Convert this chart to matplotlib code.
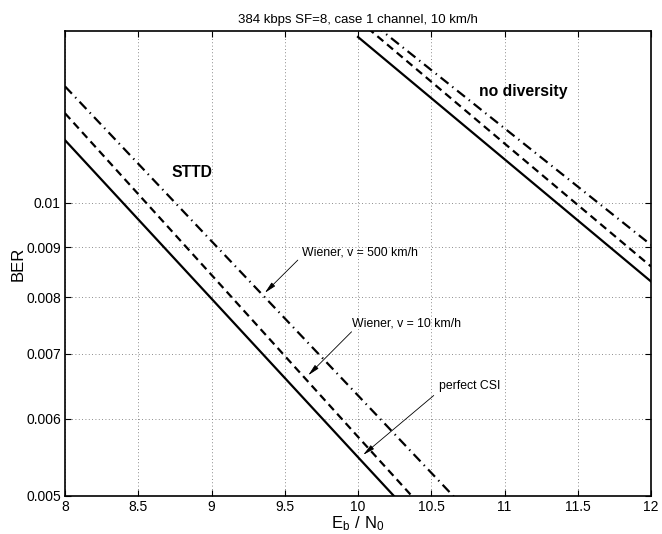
import matplotlib.pyplot as plt
from matplotlib.ticker import FixedLocator, NullLocator

plt.rcParams['font.family'] = ['Liberation Sans', 'DejaVu Sans']

# STTD curves
ebno_sttd = [8, 9, 10, 11]
sttd_perfect = [0.01159, 0.00797, 0.00548, 0.00377]
sttd_wiener10 = [0.01235, 0.00843, 0.00575, 0.00393]
sttd_wiener500 = [0.01316, 0.00913, 0.00634, 0.00440]

# no diversity curves
ebno_nodiv = [10, 11, 12]
nodiv_perfect = [0.01479, 0.01108, 0.00830]
nodiv_wiener10 = [0.01540, 0.01150, 0.00860]
nodiv_wiener500 = [0.01570, 0.01192, 0.00905]

yticks = [0.005, 0.006, 0.007, 0.008, 0.009, 0.01]
ytick_labels = ['0.005', '0.006', '0.007', '0.008', '0.009', '0.01']

fig = plt.figure(figsize=(6.62, 5.34), dpi=100)
ax = fig.add_axes([0.0982, 0.0712, 0.8852, 0.8707])

lw = 1.6
dashed = (0, (3.5, 2.2))
dashdot = (0, (4.5, 2.2, 0.6, 2.2))
ax.plot(ebno_sttd, sttd_perfect, 'k-', lw=lw)
ax.plot(ebno_sttd, sttd_wiener10, 'k', ls=dashed, lw=lw)
ax.plot(ebno_sttd, sttd_wiener500, 'k', ls=dashdot, lw=lw)
ax.plot(ebno_nodiv, nodiv_perfect, 'k-', lw=lw)
ax.plot(ebno_nodiv, nodiv_wiener10, 'k', ls=dashed, lw=lw)
ax.plot(ebno_nodiv, nodiv_wiener500, 'k', ls=dashdot, lw=lw)

ax.set_yscale('log')
ax.set_xlim(8, 12)
ax.set_ylim(0.005, 0.015)
ax.yaxis.set_major_locator(FixedLocator(yticks))
ax.yaxis.set_minor_locator(NullLocator())
ax.set_yticklabels(ytick_labels)
ax.set_xticks([8, 8.5, 9, 9.5, 10, 10.5, 11, 11.5, 12])
ax.set_xticklabels(['8', '8.5', '9', '9.5', '10', '10.5', '11', '11.5', '12'])

ax.tick_params(which='both', direction='in', top=True, right=True,
               labelsize=10, length=4, width=0.8, pad=3)
ax.grid(True, ls=(0, (1, 3)), color='0.4', lw=0.6)
for s in ax.spines.values():
    s.set_linewidth(1.2)

ax.set_title('384 kbps SF=8, case 1 channel, 10 km/h', fontsize=9.5, pad=6)
ax.set_ylabel('BER', fontsize=12, labelpad=0)
ax.set_xlabel(r'$\mathregular{E_b\ /\ N_0}$', fontsize=12, labelpad=0)

ax.text(8.864, 0.01073, 'STTD', fontsize=11.3, fontweight='bold',
        ha='center', va='center')
ax.text(11.126, 0.01299, 'no diversity', fontsize=11.3, fontweight='bold',
        ha='center', va='center')

arrow = dict(arrowstyle='-|>,head_length=0.7,head_width=0.15', color='k',
             lw=0.6, shrinkA=0, shrinkB=0)
ax.text(9.62, 0.00889, 'Wiener, v = 500 km/h', fontsize=8.8, va='center')
ax.annotate('', xy=(9.364, 0.00808), xytext=(9.589, 0.00873), arrowprops=arrow)
ax.text(9.96, 0.00752, 'Wiener, v = 10 km/h', fontsize=8.8, va='center')
ax.annotate('', xy=(9.66, 0.00665), xytext=(9.956, 0.00737), arrowprops=arrow)
ax.text(10.553, 0.00648, 'perfect CSI', fontsize=8.8, va='center')
ax.annotate('', xy=(10.035, 0.00551), xytext=(10.517, 0.00634), arrowprops=arrow)

fig.savefig('out.png', dpi=100)
